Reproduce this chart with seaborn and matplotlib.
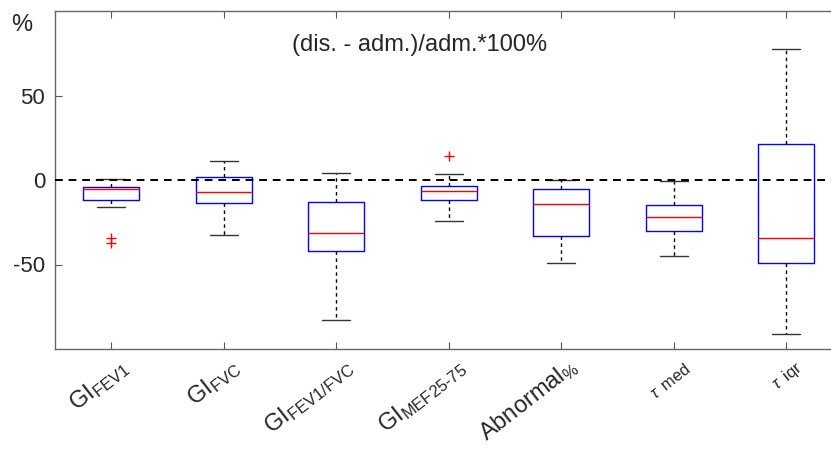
import numpy as np
import pandas as pd
import matplotlib
matplotlib.use("Agg")
import matplotlib.pyplot as plt
import matplotlib.transforms as mtransforms
import seaborn as sns

# ---------------------------------------------------------------
# данные: пятичисловая сводка для каждого бокса
# ---------------------------------------------------------------
labels = ["GI_FEV1", "GI_FVC", "GI_FEV1/FVC", "GI_MEF25-75", "Abnormal_%", "tau_med", "tau_iqr"]
tick_labels = [
    r"GI$_{\mathregular{FEV1}}$",
    r"GI$_{\mathregular{FVC}}$",
    r"GI$_{\mathregular{FEV1/FVC}}$",
    r"GI$_{\mathregular{MEF25\text{-}75}}$",
    r"Abnormal$_{\mathregular{\%}}$",
    r"$_{\tau}$ $_{\mathregular{med}}$",
    r"$_{\tau}$ $_{\mathregular{iqr}}$",
]
lower_whisker = [-15.9, -32.6, -83.0, -24.4, -49.2, -45.0, -91.2]
q1 = [-11.6, -13.4, -42.2, -11.9, -33.4, -30.1, -49.2]
median = [-5.5, -7.2, -31.6, -6.4, -14.2, -21.7, -34.6]
q3 = [-3.9, 1.9, -13.0, -3.4, -5.6, -15.0, 21.5]
upper_whisker = [0.5, 11.2, 4.4, 3.4, 0.0, -0.7, 77.3]

outlier_cat = ["GI_FEV1", "GI_FEV1", "GI_MEF25-75"]
outlier_val = [-34.3, -37.3, 14.4]

# длинная таблица: 5 точек на группу -> квартили совпадают точно
rows = []
for i, name in enumerate(labels):
    for v in (lower_whisker[i], q1[i], median[i], q3[i], upper_whisker[i]):
        rows.append({"group": name, "value": v})
df = pd.DataFrame(rows)
df_out = pd.DataFrame({"group": outlier_cat, "value": outlier_val})

# ---------------------------------------------------------------
# оформление
# ---------------------------------------------------------------
sns.set_style("ticks")
plt.rcParams["font.family"] = ["Liberation Sans", "DejaVu Sans"]
plt.rcParams["mathtext.fontset"] = "custom"
plt.rcParams["mathtext.rm"] = "Liberation Sans"
plt.rcParams["mathtext.it"] = "Liberation Sans:italic"
plt.rcParams["mathtext.bf"] = "Liberation Sans:bold"
plt.rcParams["axes.unicode_minus"] = False

fig = plt.figure(figsize=(8.31, 4.5), dpi=100)
ax = fig.add_axes([55 / 831, 1 - 349 / 450, 787.5 / 831, 338 / 450])

sns.boxplot(
    data=df, x="group", y="value", order=labels, ax=ax,
    whis=(0, 100), width=0.5, fill=False,
    boxprops=dict(color="blue", linewidth=1.0),
    medianprops=dict(color="red", linewidth=1.0),
    whiskerprops=dict(color="black", linewidth=1.0, linestyle=(0, (2.5, 2.5))),
    capprops=dict(color="#333333", linewidth=1.0),
)

sns.scatterplot(
    data=df_out, x="group", y="value", ax=ax,
    marker="+", color="red", s=60, linewidth=1.0, legend=False, zorder=5,
)

ax.axhline(0, color="black", linestyle=(0, (4, 3)), linewidth=1.4, zorder=4)

ax.set_xlim(-0.5, 6.5)
ax.set_ylim(-100, 100)
ax.set_yticks([-50, 0, 50])
ax.set_xticks(range(len(labels)))
ax.set_xticklabels(tick_labels, rotation=38, ha="right", va="center",
                   rotation_mode="anchor", fontsize=17)
ax.set_xlabel("")
ax.set_ylabel("")

ax.tick_params(direction="in", length=5, width=0.8, color="#555555",
               top=True, right=True, labelsize=16, labelcolor="#262626")
ax.tick_params(axis="x", labelsize=17, pad=16)
ax.tick_params(axis="y", pad=7)
for s in ax.spines.values():
    s.set_color("#666666")
    s.set_linewidth(1.0)

# сдвиг подписей оси x немного вправо и вверх, как в оригинале
shift = mtransforms.ScaledTranslation(14 / 100, 7 / 100, fig.dpi_scale_trans)
for lab in ax.get_xticklabels():
    lab.set_transform(lab.get_transform() + shift)

fig.text(420 / 831, 1 - 45 / 450, "(dis. - adm.)/adm.*100%",
         ha="center", va="center", fontsize=17, color="#262626")
fig.text(22 / 831, 1 - 25 / 450, "%", ha="center", va="center",
         fontsize=17, color="#262626")

fig.savefig("out.png", dpi=100)
